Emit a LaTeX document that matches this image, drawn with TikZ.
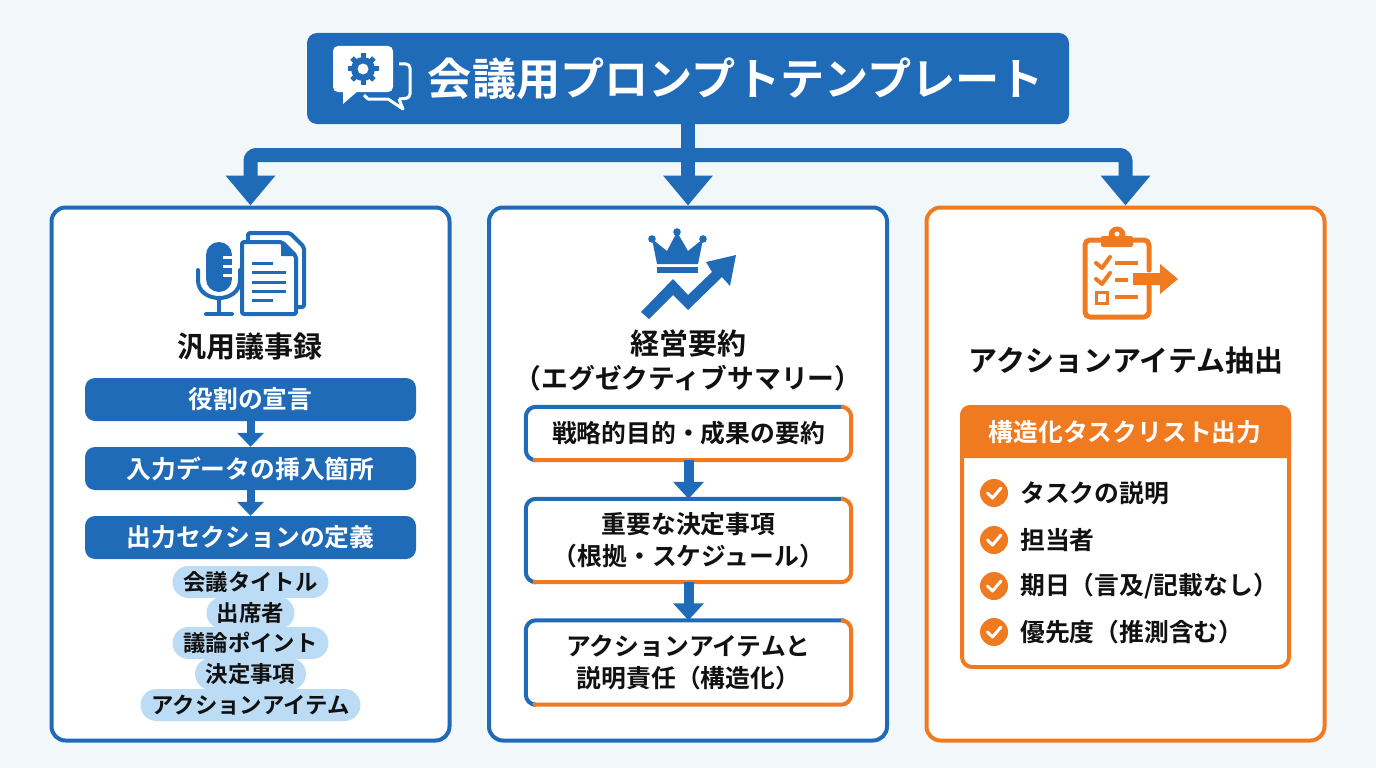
\documentclass[tikz,border=0pt]{standalone}
\usepackage{xcolor}
\usepackage{fontspec}
\setmainfont{Noto Sans CJK JP}[BoldFont={Noto Sans CJK JP Bold}]
\usetikzlibrary{arrows.meta}
\definecolor{paleback}{HTML}{F2F7FA}
\definecolor{promptblue}{HTML}{1F6BB8}
\definecolor{actionorange}{HTML}{F07A1F}
\definecolor{pillblue}{HTML}{BBDCF4}
\definecolor{inkblack}{HTML}{111111}
\tikzset{
  cardbox/.style={draw=#1, fill=white, line width=4pt, rounded corners=14pt, minimum width=398pt, minimum height=533pt, inner sep=0pt},
  headlabel/.style={text=inkblack, align=center, font=\fontsize{29}{34}\selectfont\bfseries},
  barbox/.style={fill=promptblue, text=white, rounded corners=10pt, minimum width=331pt, minimum height=43pt, inner sep=0pt, font=\fontsize{24.8}{30}\selectfont\bfseries},
  pillbox/.style={fill=pillblue, text=inkblack, rounded corners=16pt, minimum height=32pt, inner sep=0pt, font=\fontsize{22.4}{26}\selectfont\bfseries},
  duobox/.style={fill=white, text=inkblack, rounded corners=10pt, minimum width=325pt, align=center, inner sep=0pt, font=\fontsize{24.8}{32}\selectfont\bfseries},
  checkdot/.style={circle, fill=actionorange, minimum size=28pt, inner sep=0pt},
  itemlabel/.style={text=inkblack, anchor=west, inner sep=0pt, font=\fontsize{24.8}{30}\selectfont\bfseries},
  trunk/.style={draw=promptblue, line width=14pt, rounded corners=6pt, -{Triangle[width=48pt,length=30pt]}},
  minileft/.style={draw=promptblue, line width=8pt, -{Triangle[width=26pt,length=14pt]}},
  minimid/.style={draw=promptblue, line width=10pt, -{Triangle[width=30pt,length=17pt]}},
  iconblue/.style={draw=promptblue, line width=4pt, line join=round, line cap=round},
  iconorange/.style={draw=actionorange, line width=5pt, line join=round, line cap=round}
}

\begin{document}
\begin{tikzpicture}[x=1pt, y=-1pt]
  \fill[paleback] (0,0) rectangle (1376,768);
  \useasboundingbox (0,0) rectangle (1376,768);

  % Title bar
  \node[fill=promptblue, rounded corners=10pt, minimum width=762pt, minimum height=91pt, inner sep=0pt] (title) at (688,78.5) {};
  \node[text=white, font=\fontsize{44.2}{50}\selectfont\bfseries] (titletext) at (736,79) {会議用プロンプトテンプレート};

  % Three cards
  \node[cardbox=promptblue] (carda) at (250.5,474) {};
  \node[cardbox=promptblue] (cardb) at (688,474) {};
  \node[cardbox=actionorange] (cardc) at (1125.5,474) {};

  % Trunk and branches
  \coordinate (bus) at (688,155);
  \draw[trunk] (title.south) -- (cardb.north);
  \draw[trunk] (bus) -| (carda.north);
  \draw[trunk] (bus) -| (cardc.north);

  % Title icon
  \fill[white, rounded corners=5pt] (333,46) rectangle (393,92);
  \fill[white] (343,90) -- (343,104) -- (359,90) -- cycle;
  \draw[white, line width=3pt, line join=round, rounded corners=4pt] (399,64) -- (410,64) -- (410,98) -- (399,99);
  \draw[white, line width=3pt, line join=round] (399,99) -- (403,109) -- (388,99) -- (368,99) -- (364,95);
  \begin{scope}[shift={(363,69)}]
    \foreach \a in {0,45,...,315} \draw[promptblue, line width=5pt] (\a:9) -- (\a:15.5);
    \fill[promptblue] (0,0) circle[radius=12pt];
    \fill[white] (0,0) circle[radius=5.5pt];
  \end{scope}

  % Microphone and documents
  \draw[promptblue, line width=26pt, line cap=round] (219,255) -- (219,279);
  \foreach \y in {257,266,275} \draw[white, line width=3pt] (223,\y) -- (233,\y);
  \draw[iconblue] (198,270) -- (198,280) .. controls (198,304) and (240,304) .. (240,280) -- (240,270);
  \draw[iconblue] (219,298) -- (219,314);
  \draw[iconblue] (206,314) -- (232,314);
  \draw[iconblue, rounded corners=2pt] (248,240) -- (248,233) -- (290,233) -- (304,247) -- (304,307) -- (298,307);
  \draw[iconblue, fill=white, rounded corners=2pt] (242,242) -- (282,242) -- (296,256) -- (296,314) -- (242,314) -- cycle;
  \fill[promptblue] (281,242) -- (296,256) -- (281,256) -- cycle;
  \foreach \y/\e in {263/273,272/286,282/286,291/286,300/273} \draw[promptblue, line width=3pt] (252,\y) -- (\e,\y);

  % Crown and rising arrow
  \fill[promptblue] (657,264) -- (652,239) -- (667,251) -- (677,232) -- (688,251) -- (703,239) -- (698,264) -- cycle;
  \foreach \p in {(652,239),(677,232),(703,239)} \fill[promptblue] \p circle[radius=3.8pt];
  \fill[promptblue] (657,267) rectangle (698,273);
  \fill[promptblue] (641,312) -- (673,279) -- (688,295) -- (712,272) -- (706,262) -- (736,255) -- (730,286) -- (722,277) -- (688,310) -- (673,295) -- (649,319) -- cycle;

  % Clipboard with arrow
  \draw[iconorange, rounded corners=5pt] (1103,240) -- (1085,240) -- (1085,317) -- (1149,317) -- (1149,286);
  \draw[iconorange, rounded corners=5pt] (1131,240) -- (1149,240) -- (1149,270);
  \fill[actionorange, rounded corners=2pt] (1101,236) rectangle (1133,247);
  \fill[actionorange] (1117,235) circle[radius=8.5pt];
  \fill[white] (1117,234) circle[radius=2.5pt];
  \draw[iconorange, line width=4pt] (1096,263) -- (1102,268) -- (1110,257);
  \draw[iconorange, line width=4pt] (1096,279) -- (1102,284) -- (1110,273);
  \draw[actionorange, line width=3pt] (1096,292) rectangle (1107,303);
  \draw[actionorange, line width=4pt] (1115,263) -- (1138,263);
  \draw[actionorange, line width=4pt] (1115,280) -- (1128,280);
  \draw[actionorange, line width=4pt] (1115,297) -- (1138,297);
  \fill[actionorange] (1133,273) -- (1160,273) -- (1160,264) -- (1178,279) -- (1160,294) -- (1160,285) -- (1133,285) -- cycle;

  % Card headings
  \node[headlabel] (heada) at (250,347) {汎用議事録};
  \node[headlabel] (headb) at (688,360) {経営要約\\\fontsize{26.8}{34}\selectfont（エグゼクティブサマリー）};
  \node[headlabel] (headc) at (1126,360) {アクションアイテム抽出};

  % Left column
  \node[barbox] (role) at (250.5,399.5) {役割の宣言};
  \node[barbox] (input) at (250.5,468.5) {入力データの挿入箇所};
  \node[barbox] (output) at (250.5,537.5) {出力セクションの定義};
  \draw[minileft] (role) -- (input);
  \draw[minileft] (input) -- (output);
  \node[pillbox, minimum width=156pt] (pilla) at (250.5,582) {会議タイトル};
  \node[pillbox, minimum width=88pt] (pillb) at (250.5,613) {出席者};
  \node[pillbox, minimum width=156pt] (pillc) at (250.5,643) {議論ポイント};
  \node[pillbox, minimum width=111pt] (pilld) at (250.5,674) {決定事項};
  \node[pillbox, minimum width=220pt] (pille) at (250.5,705) {アクションアイテム};

  % Middle column
  \node[duobox, minimum height=53pt] (goal) at (688.5,433.5) {戦略的目的・成果の要約};
  \node[duobox, minimum height=83pt] (decide) at (688.5,540.5) {重要な決定事項\\（根拠・スケジュール）};
  \node[duobox, minimum height=84pt] (owner) at (688.5,662.5) {アクションアイテムと\\説明責任（構造化）};
  \foreach \b in {goal,decide,owner} {
    \draw[promptblue, line width=4pt, rounded corners=10pt] ([xshift=7pt]\b.south west) -- (\b.south west) -- (\b.north west) -- ([xshift=-7pt]\b.north east);
    \draw[actionorange, line width=4pt, rounded corners=10pt] ([xshift=-7pt]\b.north east) -- (\b.north east) -- (\b.south east) -- ([xshift=7pt]\b.south west);
  }
  \draw[minimid] (goal) -- (decide);
  \draw[minimid] (decide) -- (owner);

  % Right panel
  \node[draw=actionorange, fill=white, line width=4pt, rounded corners=10pt, minimum width=327pt, minimum height=260pt, inner sep=0pt] (panel) at (1125.5,537) {};
  \fill[actionorange, rounded corners=10pt] ([yshift=-53pt]panel.north west) -- (panel.north west) -- (panel.north east) -- ([yshift=-53pt]panel.north east);
  \node[text=white, font=\fontsize{24.8}{30}\selectfont\bfseries] (paneltitle) at (1125,432) {構造化タスクリスト出力};
  \foreach \n/\y/\t in {a/493/{タスクの説明},b/540/{担当者},c/586/{期日（言及/記載なし）},d/632/{優先度（推測含む）}} {
    \node[checkdot] (dot\n) at (994,\y) {};
    \draw[white, line width=3pt, line cap=round, line join=round] ([shift={(-6.5pt,0pt)}]dot\n.center) -- ([shift={(-1.5pt,-5pt)}]dot\n.center) -- ([shift={(7pt,5pt)}]dot\n.center);
    \node[itemlabel] (item\n) at (1020,\y) {\t};
  }
\end{tikzpicture}
\end{document}
